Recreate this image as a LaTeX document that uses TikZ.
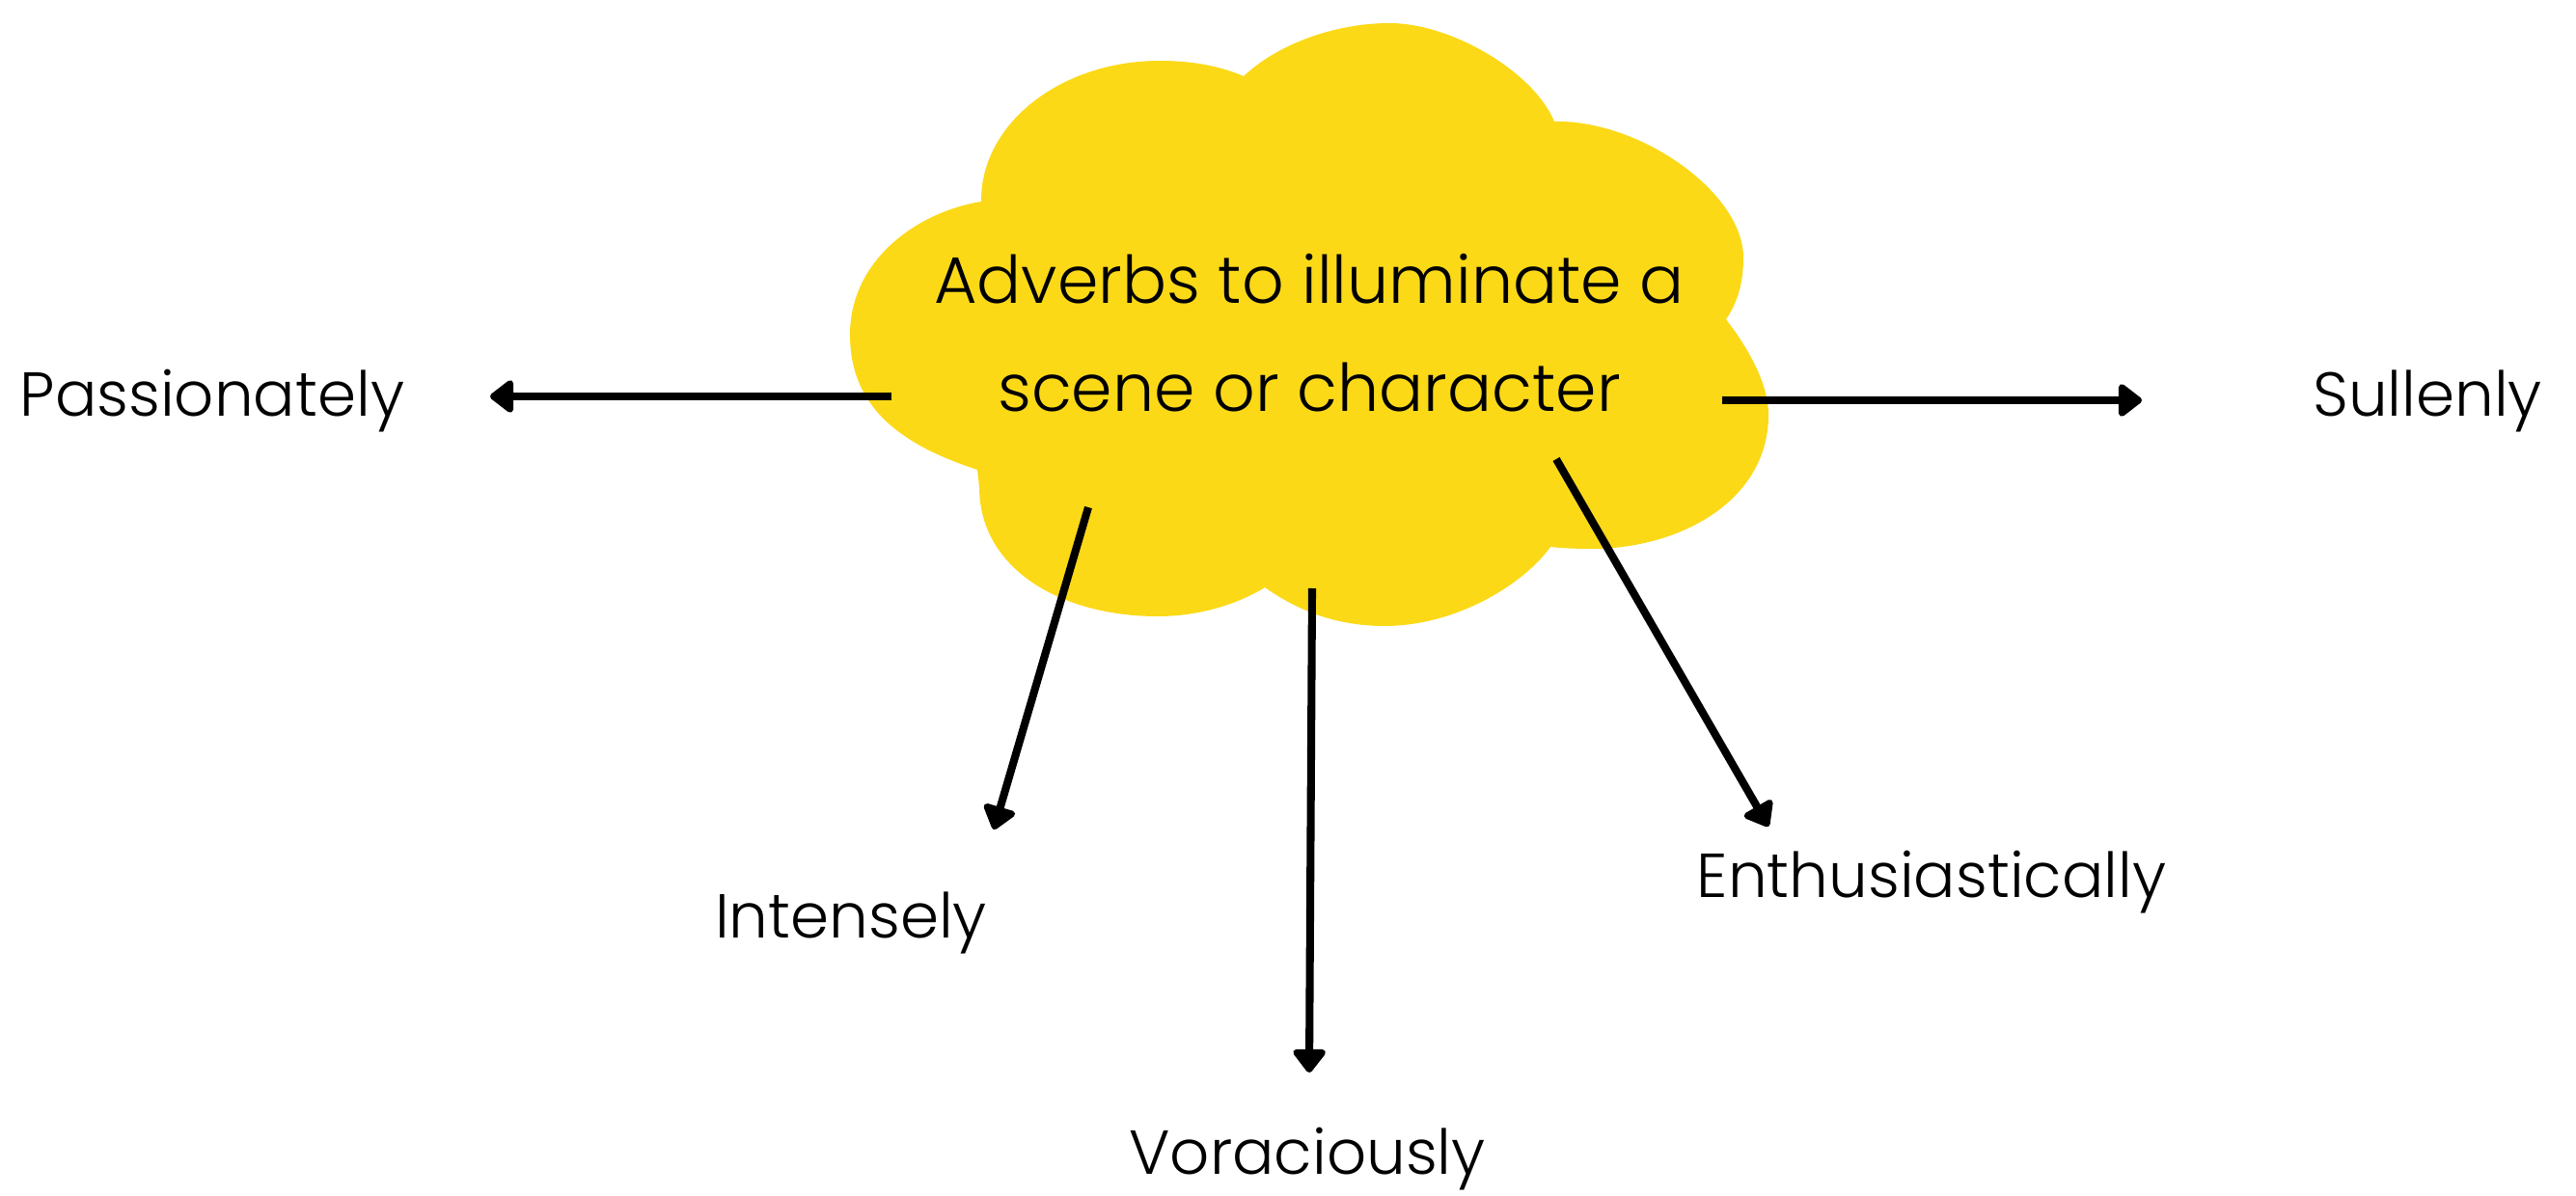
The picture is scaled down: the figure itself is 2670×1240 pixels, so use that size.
\documentclass[tikz,border=0pt]{standalone}
\usepackage{fontspec}
\setmainfont{Poppins}[UprightFont=* Light]
\usetikzlibrary{arrows.meta}
\definecolor{cloudyellow}{RGB}{251,217,23}
\tikzset{
  adverb/.style={font=\fontsize{18.3}{22}\selectfont, anchor=base},
  link/.style={line width=2.3pt, -{Triangle[round,length=7.5pt,width=11pt]}}
}
\begin{document}
\begin{tikzpicture}[x=0.01cm,y=-0.01cm]
\useasboundingbox (0,0) rectangle (2670,1240);
% the cloud
\fill[cloudyellow] (1017,209) .. controls (1016,128) and (1100,63) .. (1202,63)
  .. controls (1240,63) and (1268,70) .. (1289,79)
  .. controls (1325,45) and (1385,24) .. (1440,24)
  .. controls (1505,24) and (1590,75) .. (1611,126)
  .. controls (1700,124) and (1807,200) .. (1807,267)
  .. controls (1807,295) and (1800,315) .. (1789,331)
  .. controls (1815,365) and (1833,400) .. (1833,430)
  .. controls (1833,520) and (1740,569) .. (1650,569)
  .. controls (1630,569) and (1615,568) .. (1607,567)
  .. controls (1580,605) and (1510,649) .. (1435,649)
  .. controls (1385,649) and (1345,633) .. (1311,609)
  .. controls (1280,628) and (1240,639) .. (1200,639)
  .. controls (1100,639) and (1015,590) .. (1015,505)
  -- (1013,487)
  .. controls (930,460) and (881,420) .. (881,347)
  .. controls (881,270) and (950,220) .. (1017,209) -- cycle;
\node[font=\fontsize{19.4}{32}\selectfont, align=center] (title) at (1357,345) {Adverbs to illuminate a\\scene or character};
% labels
\node[adverb] (passionately) at (220,432) {Passionately};
\node[adverb] (sullenly) at (2516,432) {Sullenly};
\node[adverb] (intensely) at (882,972) {Intensely};
\node[adverb] (voraciously) at (1355,1217) {Voraciously};
\node[adverb] (enthusiastically) at (2002,930) {Enthusiastically};
% arrows
\coordinate (from-w) at (924,411);
\coordinate (to-w) at (508,411);
\coordinate (from-e) at (1785,415);
\coordinate (to-e) at (2220,415);
\coordinate (from-sw) at (1128,526);
\coordinate (to-sw) at (1030,860);
\coordinate (from-s) at (1360,610);
\coordinate (to-s) at (1357,1112);
\coordinate (from-se) at (1613,476);
\coordinate (to-se) at (1833,857);
\draw[link] (from-w) -- (to-w);
\draw[link] (from-e) -- (to-e);
\draw[link] (from-sw) -- (to-sw);
\draw[link] (from-s) -- (to-s);
\draw[link] (from-se) -- (to-se);
\end{tikzpicture}
\end{document}
